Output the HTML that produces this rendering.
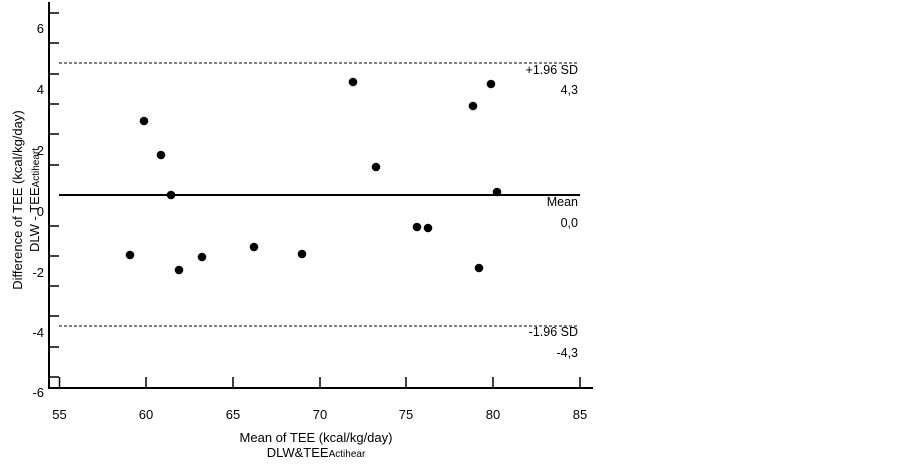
<!DOCTYPE html>
<html><head><meta charset="utf-8"><style>html,body{margin:0;padding:0;background:#fff}</style></head>
<body>
<svg width="902" height="459" xmlns="http://www.w3.org/2000/svg" font-family="Liberation Sans, Arial, sans-serif" font-size="13" fill="#000">
<rect width="902" height="459" fill="#fff"/>
<g stroke="#000" stroke-width="2" fill="none">
<line x1="49" y1="2" x2="49" y2="389"/>
<line x1="48" y1="388" x2="593" y2="388"/>
</g>
<g stroke="#000" stroke-width="1.5">
<line x1="49" y1="13" x2="59" y2="13"/><line x1="49" y1="43" x2="59" y2="43"/><line x1="49" y1="74" x2="59" y2="74"/><line x1="49" y1="104" x2="59" y2="104"/><line x1="49" y1="134" x2="59" y2="134"/><line x1="49" y1="165" x2="59" y2="165"/><line x1="49" y1="226" x2="59" y2="226"/><line x1="49" y1="256" x2="59" y2="256"/><line x1="49" y1="286" x2="59" y2="286"/><line x1="49" y1="316" x2="59" y2="316"/><line x1="49" y1="347" x2="59" y2="347"/><line x1="49" y1="377" x2="59" y2="377"/>
<line x1="59.5" y1="377" x2="59.5" y2="388"/><line x1="146" y1="377" x2="146" y2="388"/><line x1="233" y1="377" x2="233" y2="388"/><line x1="320" y1="377" x2="320" y2="388"/><line x1="406" y1="377" x2="406" y2="388"/><line x1="493" y1="377" x2="493" y2="388"/><line x1="580" y1="377" x2="580" y2="388"/>
</g>
<line x1="59" y1="195" x2="580" y2="195" stroke="#000" stroke-width="2"/>
<g stroke="#000" stroke-width="1" stroke-dasharray="3,2">
<line x1="59" y1="63" x2="579" y2="63"/>
<line x1="59" y1="326" x2="579" y2="326"/>
</g>
<g text-anchor="end">
<text x="44" y="33">6</text><text x="44" y="94">4</text><text x="44" y="155">2</text><text x="44" y="216">0</text><text x="44" y="277">-2</text><text x="44" y="337">-4</text><text x="44" y="397">-6</text>
<text x="578" y="74" font-size="12.5">+1.96 SD</text><text x="578" y="94" font-size="12.5">4,3</text>
<text x="578" y="206" font-size="12.5">Mean</text><text x="578" y="227" font-size="12.5">0,0</text>
<text x="578" y="336" font-size="12.5">-1.96 SD</text><text x="578" y="357" font-size="12.5">-4,3</text>
</g>
<g text-anchor="middle">
<text x="59.5" y="419">55</text><text x="146" y="419">60</text><text x="233" y="419">65</text><text x="320" y="419">70</text><text x="406" y="419">75</text><text x="493" y="419">80</text><text x="580" y="419">85</text>
<text x="316" y="442">Mean of TEE (kcal/kg/day)</text>
<text x="316" y="457">DLW&amp;TEE<tspan font-size="10">Actihear</tspan></text>
<text transform="translate(22,200) rotate(-90)">Difference of TEE (kcal/kg/day)</text>
<text transform="translate(39,200) rotate(-90)">DLW - TEE<tspan font-size="10">Actiheart</tspan></text>
</g>
<g fill="#000">
<circle cx="130" cy="255" r="4.3"/><circle cx="144" cy="121" r="4.3"/><circle cx="161" cy="155" r="4.3"/><circle cx="171" cy="195" r="4.3"/><circle cx="179" cy="270" r="4.3"/><circle cx="202" cy="257" r="4.3"/><circle cx="254" cy="247" r="4.3"/><circle cx="302" cy="254" r="4.3"/><circle cx="353" cy="82" r="4.3"/><circle cx="376" cy="167" r="4.3"/><circle cx="417" cy="227" r="4.3"/><circle cx="428" cy="228" r="4.3"/><circle cx="473" cy="106" r="4.3"/><circle cx="479" cy="268" r="4.3"/><circle cx="491" cy="84" r="4.3"/><circle cx="497" cy="192" r="4.3"/>
</g>
</svg>
</body></html>
